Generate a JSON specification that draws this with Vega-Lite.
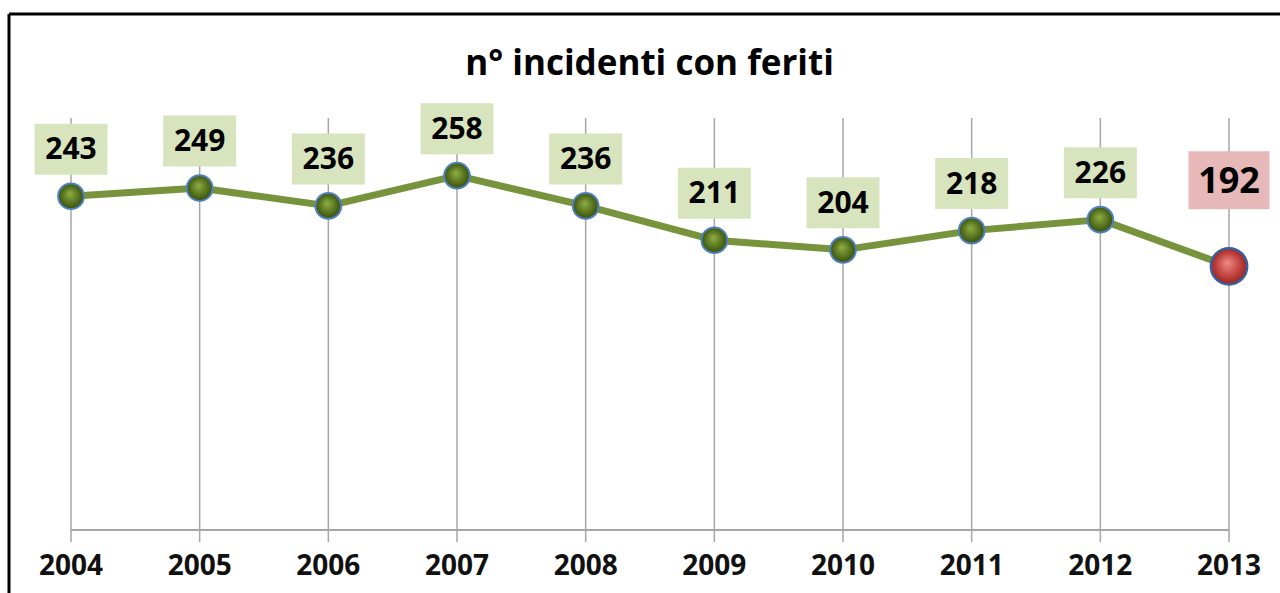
{
  "$schema": "https://vega.github.io/schema/vega-lite/v6.json",
  "width": 1271,
  "height": 579,
  "autosize": {"type": "none"},
  "padding": {"left": 9, "top": 14, "right": 0, "bottom": 0},
  "background": "#ffffff",
  "config": {"view": {"stroke": null}},
  "title": {
    "text": "n° incidenti con feriti",
    "font": "Open Sans",
    "fontSize": 35,
    "fontWeight": "bold",
    "color": "#000000",
    "anchor": "middle",
    "baseline": "alphabetic",
    "offset": -97,
    "dx": 5
  },
  "data": {
    "values": [
      {"year": 2004, "value": 243},
      {"year": 2005, "value": 249},
      {"year": 2006, "value": 236},
      {"year": 2007, "value": 258},
      {"year": 2008, "value": 236},
      {"year": 2009, "value": 211},
      {"year": 2010, "value": 204},
      {"year": 2011, "value": 218},
      {"year": 2012, "value": 226},
      {"year": 2013, "value": 192}
    ]
  },
  "encoding": {
    "x": {"field": "year", "type": "quantitative", "scale": {"domain": [2003.51813, 2013.39636], "nice": false, "zero": false}, "axis": null},
    "y": {"field": "value", "type": "quantitative", "scale": {"domain": [-45.874, 375.728], "nice": false, "zero": false}, "axis": null}
  },
  "layer": [
    {
      "transform": [{"filter": "datum.year == 2004"}],
      "mark": {"type": "rule", "color": "#000000", "strokeWidth": 3},
      "encoding": {
        "x": {"datum": 2003.51813, "type": "quantitative"},
        "y": {"datum": -45.874, "type": "quantitative"},
        "y2": {"datum": 375.728}
      }
    },
    {
      "transform": [{"filter": "datum.year == 2004"}],
      "mark": {"type": "rule", "color": "#000000", "strokeWidth": 3},
      "encoding": {
        "x": {"datum": 2003.51813, "type": "quantitative"},
        "x2": {"datum": 2013.39636},
        "y": {"datum": 375.728, "type": "quantitative"}
      }
    },
    {
      "mark": {"type": "rule", "color": "#a6a6a6", "strokeWidth": 1.5},
      "encoding": {
        "y": {"datum": -8.74, "type": "quantitative"},
        "y2": {"datum": 300}
      }
    },
    {
      "transform": [{"filter": "datum.year == 2004"}],
      "mark": {"type": "rule", "color": "#a6a6a6", "strokeWidth": 2},
      "encoding": {
        "x": {"datum": 2004, "type": "quantitative"},
        "x2": {"datum": 2013},
        "y": {"datum": 0, "type": "quantitative"}
      }
    },
    {
      "mark": {"type": "text", "font": "Open Sans", "fontSize": 28, "fontWeight": "bold", "color": "#111111", "baseline": "middle", "align": "center"},
      "encoding": {
        "y": {"datum": -26.94, "type": "quantitative"},
        "text": {"field": "year", "type": "nominal"}
      }
    },
    {
      "mark": {"type": "line", "color": "#77933c", "strokeWidth": 7, "strokeCap": "round", "strokeJoin": "round"}
    },
    {
      "transform": [{"filter": "datum.year < 2013"}],
      "mark": {
        "type": "point",
        "shape": "circle",
        "filled": true,
        "size": 660,
        "opacity": 1,
        "fill": {"gradient": "radial", "x1": 0.45, "y1": 0.4, "r1": 0, "x2": 0.5, "y2": 0.5, "r2": 0.55, "stops": [{"offset": 0, "color": "#8fae45"}, {"offset": 0.6, "color": "#55711d"}, {"offset": 1, "color": "#33470c"}]},
        "stroke": "#4f81bd",
        "strokeWidth": 2
      }
    },
    {
      "transform": [{"filter": "datum.year == 2013"}],
      "mark": {
        "type": "point",
        "shape": "circle",
        "filled": true,
        "size": 1320,
        "opacity": 1,
        "fill": {"gradient": "radial", "x1": 0.45, "y1": 0.4, "r1": 0, "x2": 0.5, "y2": 0.5, "r2": 0.55, "stops": [{"offset": 0, "color": "#ee8a86"}, {"offset": 0.6, "color": "#c0413d"}, {"offset": 1, "color": "#8a1f1c"}]},
        "stroke": "#3a5f9f",
        "strokeWidth": 2.5
      }
    },
    {
      "transform": [{"filter": "datum.year < 2013"}],
      "mark": {"type": "point", "shape": "M-1.431,-1H1.431V1H-1.431Z", "size": 2601, "filled": true, "opacity": 1, "fill": "#d7e4bd", "strokeWidth": 0, "yOffset": -47}
    },
    {
      "transform": [{"filter": "datum.year == 2013"}],
      "mark": {"type": "point", "shape": "M-1.397,-1H1.397V1H-1.397Z", "size": 3364, "filled": true, "opacity": 1, "fill": "#e6b9b8", "strokeWidth": 0, "yOffset": -86}
    },
    {
      "transform": [{"filter": "datum.year < 2013"}],
      "mark": {"type": "text", "font": "Open Sans", "fontSize": 30, "fontWeight": "bold", "color": "#000000", "baseline": "middle", "align": "center", "dy": -46},
      "encoding": {"text": {"field": "value", "type": "quantitative"}}
    },
    {
      "transform": [{"filter": "datum.year == 2013"}],
      "mark": {"type": "text", "font": "Open Sans", "fontSize": 36, "fontWeight": "bold", "color": "#000000", "baseline": "middle", "align": "center", "dy": -84},
      "encoding": {"text": {"field": "value", "type": "quantitative"}}
    }
  ]
}
